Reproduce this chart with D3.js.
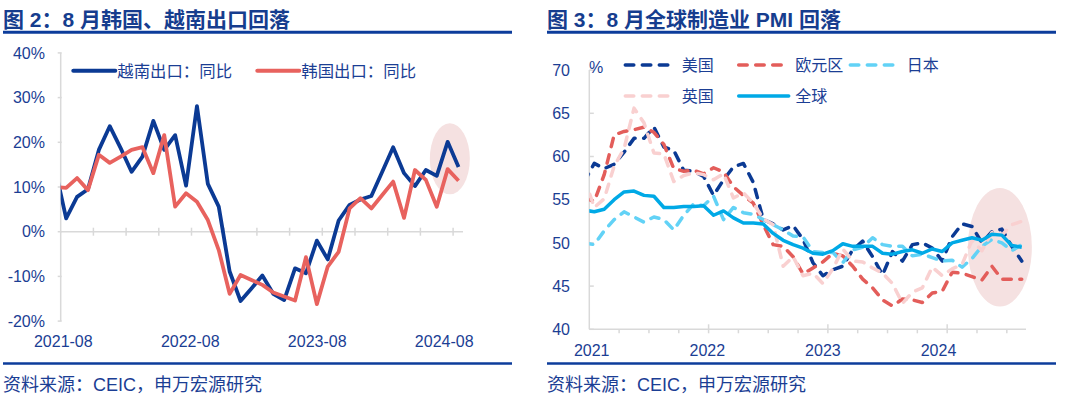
<!DOCTYPE html>
<html>
<head>
<meta charset="utf-8">
<script src="https://cdn.jsdelivr.net/npm/d3@7"></script>
<style>
  html, body { margin: 0; padding: 0; background: #fff; }
  svg text { font-family: "Liberation Sans", "Noto Sans CJK SC", sans-serif; }
</style>
</head>
<body>
<div id="chart-area"></div>
<script>
// ---- left chart: 2021-07 .. 2024-08, monthly yoy (%)
var vietnam = [14, 3.0, 7.8, 9.5, 18.3, 23.6, 18.7, 13.4, 16.8, 24.8, 18.3, 21.6, 10.3, 28.1, 10.7, 5.6,
  -8.9, -15.5, -12.7, -9.8, -13.9, -15.3, -8.2, -9.3, -2.0, -6.2, 2.5, 6.0, 7.2, 8.0, 13.4, 18.9,
  13.1, 10.2, 13.8, 12.5, 20.1, 14.5];
var korea = [10, 9.8, 12, 9.3, 17.2, 15.4, 16.8, 18.3, 18.9, 13.1, 21.6, 5.6, 8.6, 6.7, 2.6, -4.1,
  -13.9, -9.7, -10.8, -11.9, -13.6, -14.5, -15.4, -5.7, -16.2, -7.8, -4.5, 5.2, 7.5, 5.2, 8.2, 11.2,
  3.1, 13.8, 11.6, 5.6, 14.0, 11.4];
var leftXLabels = ["2021-08", "2022-08", "2023-08", "2024-08"];
var leftYTicks = [-20, -10, 0, 10, 20, 30, 40];

// ---- right chart: 2020-12 .. 2024-08, manufacturing PMI
var pmiUS = [57.1, 59.2, 58.6, 59.1, 60.5, 62.1, 62.1, 63.4, 61.1, 60.7, 58.4, 58.3, 57.7,
  55.5, 57.3, 58.8, 59.2, 57.0, 52.7, 52.2, 51.5, 52.0, 50.4, 47.7, 46.2,
  46.9, 47.3, 49.2, 50.2, 48.4, 46.3, 49.0, 47.9, 49.8, 50.0, 49.4, 47.9,
  50.7, 52.2, 51.9, 50.0, 51.3, 51.6, 49.6, 47.9];
var pmiEuro = [55.2, 54.8, 57.9, 62.5, 62.9, 63.1, 63.4, 62.8, 61.4, 58.6, 58.3, 58.4, 58.0,
  58.7, 58.2, 56.5, 55.5, 54.6, 52.1, 49.8, 49.6, 48.4, 46.4, 47.1, 47.8,
  48.8, 48.5, 47.3, 45.8, 44.8, 43.4, 42.7, 43.5, 43.4, 43.1, 44.2, 44.4,
  46.6, 46.5, 46.1, 45.7, 47.3, 45.8, 45.8, 45.8];
var pmiJapan = [50.0, 49.8, 51.4, 52.7, 53.6, 53.0, 52.4, 53.0, 52.7, 51.5, 53.2, 54.5, 54.3,
  55.4, 52.7, 54.1, 53.5, 53.3, 52.7, 52.1, 51.5, 50.8, 50.7, 49.0, 48.9,
  48.9, 47.7, 49.2, 49.5, 50.6, 49.8, 49.6, 49.6, 48.5, 48.7, 48.3, 47.9,
  48.0, 47.2, 48.2, 49.6, 50.4, 50.0, 49.1, 49.8];
var pmiUK = [57.5, 54.1, 55.1, 58.9, 60.9, 65.6, 63.9, 60.4, 60.3, 57.1, 57.8, 58.1, 57.9,
  57.3, 58.0, 55.2, 55.8, 54.6, 52.8, 52.1, 47.3, 48.4, 46.2, 46.5, 45.3,
  47.0, 49.3, 47.9, 47.8, 47.1, 46.5, 45.3, 43.0, 44.3, 44.8, 47.2, 46.2,
  47.0, 47.5, 50.3, 49.1, 51.2, 50.9, 52.1, 52.5];
var pmiGlobal = [53.8, 53.6, 53.9, 55.0, 55.9, 56.0, 55.5, 55.4, 54.1, 54.1, 54.2, 54.2, 54.3,
  53.2, 53.7, 52.9, 52.3, 52.3, 52.2, 51.1, 50.3, 49.8, 49.4, 48.8, 48.7,
  49.1, 49.9, 49.6, 49.6, 49.6, 48.8, 48.7, 49.0, 49.2, 48.8, 49.3, 49.0,
  50.0, 50.3, 50.6, 50.3, 51.0, 50.9, 49.7, 49.5];
var rightXLabels = ["2021", "2022", "2023", "2024"];
var rightYTicks = [40, 45, 50, 55, 60, 65, 70];

var textBlue = "#1b3e94";
var navy = "#0b3a94";
var axisGrey = "#d9d9d9";

var svg = d3.select("#chart-area")
  .append("svg")
  .attr("width", 1080)
  .attr("height", 398);

// clip rects
var defs = svg.append("defs");
defs.append("clipPath").attr("id", "clipL")
  .append("rect").attr("x", 60.7).attr("y", 0).attr("width", 404).attr("height", 398);
defs.append("clipPath").attr("id", "clipR")
  .append("rect").attr("x", 589.3).attr("y", 0).attr("width", 440).attr("height", 398);

function frame(x0, x1, title) {
  svg.append("text")
    .attr("x", x0)
    .attr("y", 27)
    .attr("font-size", "21px")
    .attr("font-weight", "bold")
    .attr("fill", "#163d8e")
    .text(title);
  svg.append("line")
    .attr("x1", x0).attr("x2", x1)
    .attr("y1", 32.3).attr("y2", 32.3)
    .attr("stroke", "#0c3c9b")
    .attr("stroke-width", 3);
  svg.append("line")
    .attr("x1", x0).attr("x2", x1)
    .attr("y1", 363.5).attr("y2", 363.5)
    .attr("stroke", "#0c3c9b")
    .attr("stroke-width", 2.5);
  svg.append("text")
    .attr("x", x0)
    .attr("y", 391)
    .attr("font-size", "18px")
    .attr("fill", textBlue)
    .text("资料来源：CEIC，申万宏源研究");
}

frame(3, 512, "图 2：8 月韩国、越南出口回落");
frame(547, 1056, "图 3：8 月全球制造业 PMI 回落");

// ================= left chart =================
var xL = d3.scaleLinear().domain([0, 37]).range([60.7, 464]);
var yL = d3.scaleLinear().domain([-20, 40]).range([321.1, 52.9]);
var xLabL = d3.scalePoint().domain(leftXLabels).range([63.3, 444.2]);

var gL = svg.append("g");

gL.append("ellipse")
  .attr("cx", xL(35.7))
  .attr("cy", yL(16.3))
  .attr("rx", 20)
  .attr("ry", 35.5)
  .attr("fill", "#f5e1e1");

gL.append("line")
  .attr("x1", xL(0)).attr("x2", xL(0))
  .attr("y1", yL(40)).attr("y2", yL(-20))
  .attr("stroke", axisGrey).attr("stroke-width", 1.5);
gL.selectAll(".ytickL")
  .data(leftYTicks)
  .enter()
  .append("line")
  .attr("x1", xL(0) - 3).attr("x2", xL(0) + 1)
  .attr("y1", function (d) { return yL(d); })
  .attr("y2", function (d) { return yL(d); })
  .attr("stroke", axisGrey).attr("stroke-width", 1.5);
gL.selectAll(".ylabL")
  .data(leftYTicks)
  .enter()
  .append("text")
  .attr("x", 45)
  .attr("y", function (d) { return yL(d); })
  .attr("dy", "0.36em")
  .attr("text-anchor", "end")
  .attr("font-size", "16px")
  .attr("fill", textBlue)
  .text(function (d) { return d + "%"; });

gL.append("line")
  .attr("x1", xL(0)).attr("x2", 463)
  .attr("y1", yL(0)).attr("y2", yL(0))
  .attr("stroke", axisGrey).attr("stroke-width", 1.5);
gL.selectAll(".xtickL")
  .data(d3.range(3, 37, 3))
  .enter()
  .append("line")
  .attr("x1", function (d) { return xL(d); })
  .attr("x2", function (d) { return xL(d); })
  .attr("y1", yL(0) - 4).attr("y2", yL(0) + 4)
  .attr("stroke", axisGrey).attr("stroke-width", 1.5);
gL.selectAll(".xlabL")
  .data(leftXLabels)
  .enter()
  .append("text")
  .attr("x", function (d) { return xLabL(d); })
  .attr("y", 347)
  .attr("text-anchor", "middle")
  .attr("font-size", "16px")
  .attr("fill", textBlue)
  .text(function (d) { return d; });

var lineL = d3.line()
  .x(function (d, i) { return xL(i - 0.5); })
  .y(function (d) { return yL(d); });

var seriesL = [
  { name: "越南出口：同比", values: vietnam, color: navy },
  { name: "韩国出口：同比", values: korea, color: "#e8625e" }
];
gL.selectAll(".lineL")
  .data(seriesL)
  .enter()
  .append("path")
  .attr("clip-path", "url(#clipL)")
  .attr("d", function (d) { return lineL(d.values); })
  .attr("fill", "none")
  .attr("stroke", function (d) { return d.color; })
  .attr("stroke-width", 3.8)
  .attr("stroke-linejoin", "round");

var legL = [73.3, 257.3];
seriesL.forEach(function (s, i) {
  gL.append("line")
    .attr("x1", legL[i]).attr("x2", legL[i] + 42)
    .attr("y1", 70.7).attr("y2", 70.7)
    .attr("stroke", s.color)
    .attr("stroke-width", 4)
    .attr("stroke-linecap", "round");
  gL.append("text")
    .attr("x", legL[i] + 44)
    .attr("y", 70.7)
    .attr("dy", "0.36em")
    .attr("font-size", "16.4px")
    .attr("fill", textBlue)
    .text(s.name);
});

// ================= right chart =================
var xR = d3.scaleLinear().domain([0, 44]).range([589.3, 1026.7]);
var yR = d3.scaleLinear().domain([40, 70]).range([329.3, 70.1]);
var xLabR = d3.scalePoint().domain(rightXLabels).range([591.7, 938.5]);

var gR = svg.append("g");

gR.append("ellipse")
  .attr("cx", xR(41.3))
  .attr("cy", yR(49.5))
  .attr("rx", 32)
  .attr("ry", 59.2)
  .attr("fill", "#f5e1e1");

gR.append("line")
  .attr("x1", xR(0)).attr("x2", xR(0))
  .attr("y1", yR(70)).attr("y2", yR(40))
  .attr("stroke", axisGrey).attr("stroke-width", 1.5);
gR.selectAll(".ytickR")
  .data(rightYTicks)
  .enter()
  .append("line")
  .attr("x1", xR(0)).attr("x2", xR(0) + 4.5)
  .attr("y1", function (d) { return yR(d); })
  .attr("y2", function (d) { return yR(d); })
  .attr("stroke", axisGrey).attr("stroke-width", 1.5);
gR.selectAll(".ylabR")
  .data(rightYTicks)
  .enter()
  .append("text")
  .attr("x", 570)
  .attr("y", function (d) { return yR(d); })
  .attr("dy", "0.36em")
  .attr("text-anchor", "end")
  .attr("font-size", "16px")
  .attr("fill", textBlue)
  .text(function (d) { return d; });
gR.append("text")
  .attr("x", 589)
  .attr("y", 67)
  .attr("dy", "0.36em")
  .attr("font-size", "16px")
  .attr("fill", textBlue)
  .text("%");

gR.append("line")
  .attr("x1", xR(0)).attr("x2", 1026)
  .attr("y1", yR(40)).attr("y2", yR(40))
  .attr("stroke", axisGrey).attr("stroke-width", 1.5);
gR.selectAll(".xtickR")
  .data(d3.range(3, 44, 3))
  .enter()
  .append("line")
  .attr("x1", function (d) { return xR(d); })
  .attr("x2", function (d) { return xR(d); })
  .attr("y1", function (d) { return yR(40) - (d % 12 === 0 ? 5 : 0); })
  .attr("y2", yR(40) + 4)
  .attr("stroke", axisGrey).attr("stroke-width", 1.5);
gR.selectAll(".xlabR")
  .data(rightXLabels)
  .enter()
  .append("text")
  .attr("x", function (d) { return xLabR(d); })
  .attr("y", 355.5)
  .attr("text-anchor", "middle")
  .attr("font-size", "16px")
  .attr("fill", textBlue)
  .text(function (d) { return d; });

var lineR = d3.line()
  .x(function (d, i) { return xR(i - 0.5); })
  .y(function (d) { return yR(d); });

var seriesR = [
  { name: "美国", values: pmiUS, color: navy, dash: "8.5,8.5", lx: 623.3, ly: 65 },
  { name: "欧元区", values: pmiEuro, color: "#e35d5a", dash: "8.5,8.5", lx: 736.7, ly: 65 },
  { name: "日本", values: pmiJapan, color: "#62d2f6", dash: "8.5,8.5", lx: 848.3, ly: 65 },
  { name: "英国", values: pmiUK, color: "#f9d0d0", dash: "8.5,8.5", lx: 623.3, ly: 96 },
  { name: "全球", values: pmiGlobal, color: "#00a9e6", dash: null, lx: 736.7, ly: 96 }
];

gR.selectAll(".lineR")
  .data(seriesR)
  .enter()
  .append("path")
  .attr("clip-path", "url(#clipR)")
  .attr("d", function (d) { return lineR(d.values); })
  .attr("fill", "none")
  .attr("stroke", function (d) { return d.color; })
  .attr("stroke-width", 3.5)
  .attr("stroke-linejoin", "round")
  .attr("stroke-linecap", function (d) { return d.dash ? "round" : "butt"; })
  .attr("stroke-dasharray", function (d) { return d.dash; });

seriesR.forEach(function (s) {
  gR.append("line")
    .attr("x1", s.lx + 2).attr("x2", s.lx + 52)
    .attr("y1", s.ly).attr("y2", s.ly)
    .attr("stroke", s.color)
    .attr("stroke-width", 3.5)
    .attr("stroke-linecap", "round")
    .attr("stroke-dasharray", s.dash);
  gR.append("text")
    .attr("x", s.lx + 58.5)
    .attr("y", s.ly)
    .attr("dy", "0.36em")
    .attr("font-size", "16px")
    .attr("fill", textBlue)
    .text(s.name);
});
</script>
</body>
</html>
